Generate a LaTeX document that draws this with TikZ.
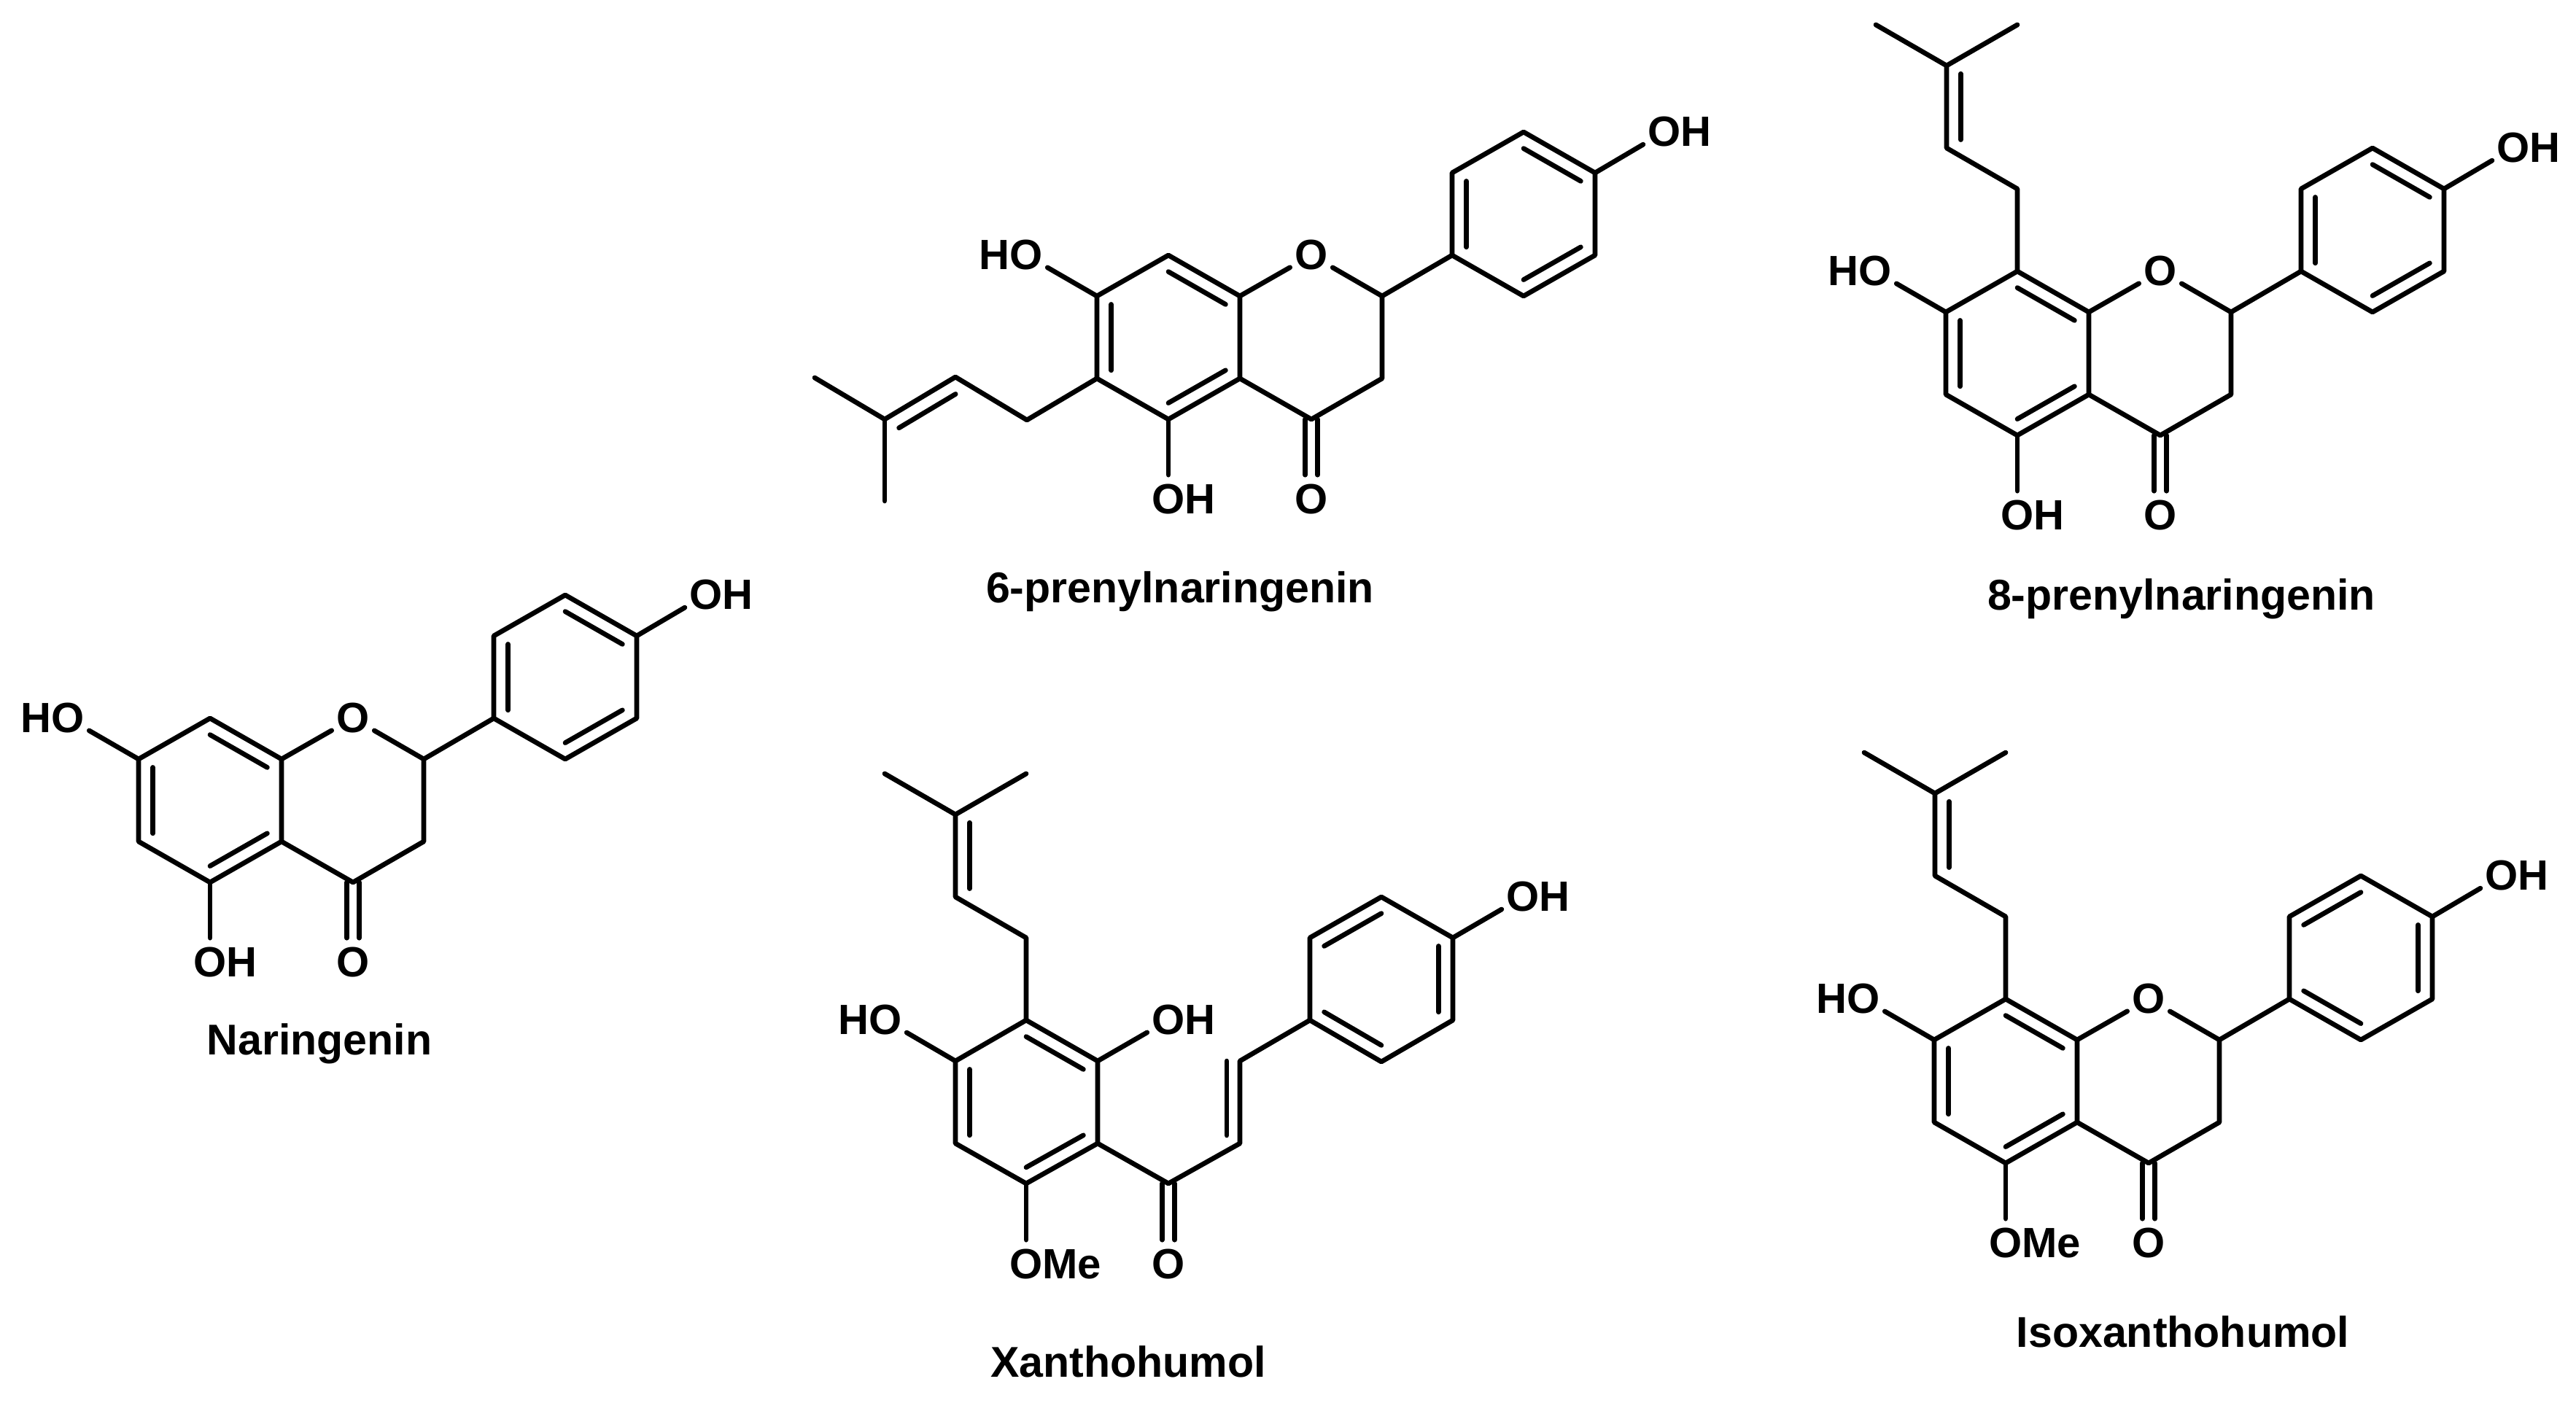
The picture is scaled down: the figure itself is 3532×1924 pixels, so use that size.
\documentclass[tikz,border=0pt]{standalone}
\usepackage{fontspec}
\setmainfont{Liberation Sans}
\usetikzlibrary{calc}

\tikzset{
	atom/.style={circle, inner sep=0pt, font=\fontsize{16.5}{19}\selectfont\bfseries},
	molname/.style={anchor=base, inner sep=0pt, font=\fontsize{16.8}{20}\selectfont\bfseries},
}

\newcommand{\innerbond}[3]{\draw ($(#1)!0.2!(#3)$) -- ($(#2)!0.2!(#3)$);}
\newcommand{\carbonyl}[2]{
	\draw ([xshift=-0.085cm]#1) -- ([xshift=-0.085cm]#2.north);
	\draw ([xshift=0.085cm]#1) -- ([xshift=0.085cm]#2.north);
}

% tail on top of ring atom c8
\newcommand{\prenylup}{
	\coordinate (p1) at (0,-113);
	\coordinate (p2) at (-97,-169);
	\coordinate (p3) at (-97,-282);
	\coordinate (p4) at (-194,-338);
	\coordinate (p5) at (0,-338);
	\coordinate (pc) at (0,-226);
	\draw (c8) -- (p1) -- (p2) -- (p3) -- (p4);
	\draw (p3) -- (p5);
	\innerbond{p2}{p3}{pc}
}

% the ring system, origin at c8
\newcommand{\flavcore}[1]{
	\coordinate (c8) at (0,0);
	\coordinate (c7) at (-98,56);
	\coordinate (c6) at (-98,169);
	\coordinate (c5) at (0,225);
	\coordinate (c4a) at (98,169);
	\coordinate (c8a) at (98,56);
	\coordinate (ra) at (0,113);
	\coordinate (c2) at (293,56);
	\coordinate (c3) at (293,169);
	\coordinate (c4) at (196,225);
	\coordinate (f1) at (389,0);
	\coordinate (f2) at (389,-113);
	\coordinate (f3) at (487,-169);
	\coordinate (f4) at (585,-113);
	\coordinate (f5) at (585,0);
	\coordinate (f6) at (487,56);
	\coordinate (rb) at (487,-56);
	\node[atom] at (196,0) (o1) {O};
	\node[atom] at (196,335) (o4) {O};
	\node[atom] at (-195,0) (o7) {\llap{H}O};
	\node[atom] at (0,335) (o5) {O\rlap{#1}};
	\node[atom] at (680,-169) (of) {O\rlap{H}};

	\draw (c8) -- (c7) -- (c6) -- (c5) -- (c4a) -- (c8a) -- cycle;
	\draw (c8a) -- (o1) -- (c2) -- (c3) -- (c4) -- (c4a);
	\draw (f1) -- (f2) -- (f3) -- (f4) -- (f5) -- (f6) -- cycle;
	\draw (c2) -- (f1);
	\draw (f4) -- (of);
	\draw (c7) -- (o7);
	\draw (c5) -- (o5);
	\carbonyl{c4}{o4}
	\innerbond{c7}{c6}{ra}
	\innerbond{c8}{c8a}{ra}
	\innerbond{c5}{c4a}{ra}
}

\begin{document}
\begin{tikzpicture}[x=0.01cm, y=-0.01cm, line width=1.9pt, line join=round, line cap=round]
	\useasboundingbox (0,0) rectangle (3532,1924);

	% Naringenin
	\begin{scope}[shift={(288,985)}, name prefix=nar-]
		\flavcore{H}
		\innerbond{f1}{f2}{rb}
		\innerbond{f3}{f4}{rb}
		\innerbond{f5}{f6}{rb}
	\end{scope}
	\node[molname] at (438,1446) (narname) {Naringenin};

	% 6-prenylnaringenin
	\begin{scope}[shift={(1602,350)}, name prefix=six-]
		\flavcore{H}
		\innerbond{f1}{f2}{rb}
		\innerbond{f3}{f4}{rb}
		\innerbond{f5}{f6}{rb}
		\coordinate (p1) at (-194,226);
		\coordinate (p2) at (-292,167);
		\coordinate (p3) at (-389,225);
		\coordinate (p4) at (-485,168);
		\coordinate (p5) at (-389,337);
		\coordinate (pc) at (-291,284);
		\draw (c6) -- (p1) -- (p2) -- (p3) -- (p4);
		\draw (p3) -- (p5);
		\innerbond{p3}{p2}{pc}
	\end{scope}
	\node[molname] at (1618,826) (sixname) {6-prenylnaringenin};

	% 8-prenylnaringenin
	\begin{scope}[shift={(2766,372)}, name prefix=eig-]
		\flavcore{H}
		\prenylup
		\innerbond{f1}{f2}{rb}
		\innerbond{f3}{f4}{rb}
		\innerbond{f5}{f6}{rb}
	\end{scope}
	\node[molname] at (2991,836) (eigname) {8-prenylnaringenin};

	% Isoxanthohumol
	\begin{scope}[shift={(2750,1370)}, name prefix=iso-]
		\flavcore{Me}
		\prenylup
		\innerbond{f2}{f3}{rb}
		\innerbond{f4}{f5}{rb}
		\innerbond{f6}{f1}{rb}
	\end{scope}
	\node[molname] at (2993,1847) (isoname) {Isoxanthohumol};

	% Xanthohumol
	\begin{scope}[shift={(1407,1399)}, name prefix=xan-]
		\coordinate (c8) at (0,0);
		\coordinate (r2) at (98,56);
		\coordinate (r3) at (98,169);
		\coordinate (r4) at (0,224);
		\coordinate (r5) at (-97,169);
		\coordinate (r6) at (-97,56);
		\coordinate (ra) at (0,113);
		\coordinate (k) at (195,224);
		\coordinate (al) at (293,169);
		\coordinate (be) at (293,56);
		\coordinate (d1) at (275,56);
		\coordinate (d2) at (275,158);
		\coordinate (f1) at (389,0);
		\coordinate (f2) at (389,-113);
		\coordinate (f3) at (487,-169);
		\coordinate (f4) at (585,-113);
		\coordinate (f5) at (585,0);
		\coordinate (f6) at (487,57);
		\coordinate (rb) at (487,-56);
		\node[atom] at (-193,0) (oa) {\llap{H}O};
		\node[atom] at (195,0) (ob) {O\rlap{H}};
		\node[atom] at (0,335) (oc) {O\rlap{Me}};
		\node[atom] at (195,335) (od) {O};
		\node[atom] at (681,-169) (of) {O\rlap{H}};

		\draw (c8) -- (r2) -- (r3) -- (r4) -- (r5) -- (r6) -- cycle;
		\draw (f1) -- (f2) -- (f3) -- (f4) -- (f5) -- (f6) -- cycle;
		\draw (r3) -- (k) -- (al) -- (be) -- (f1);
		\draw (r6) -- (oa);
		\draw (r2) -- (ob);
		\draw (r4) -- (oc);
		\draw (f4) -- (of);
		\draw (d1) -- (d2);
		\carbonyl{k}{od}
		\innerbond{c8}{r2}{ra}
		\innerbond{r6}{r5}{ra}
		\innerbond{r4}{r3}{ra}
		\innerbond{f2}{f3}{rb}
		\innerbond{f4}{f5}{rb}
		\innerbond{f6}{f1}{rb}
		\prenylup
	\end{scope}
	\node[molname] at (1547,1888) (xanname) {Xanthohumol};
\end{tikzpicture}
\end{document}
